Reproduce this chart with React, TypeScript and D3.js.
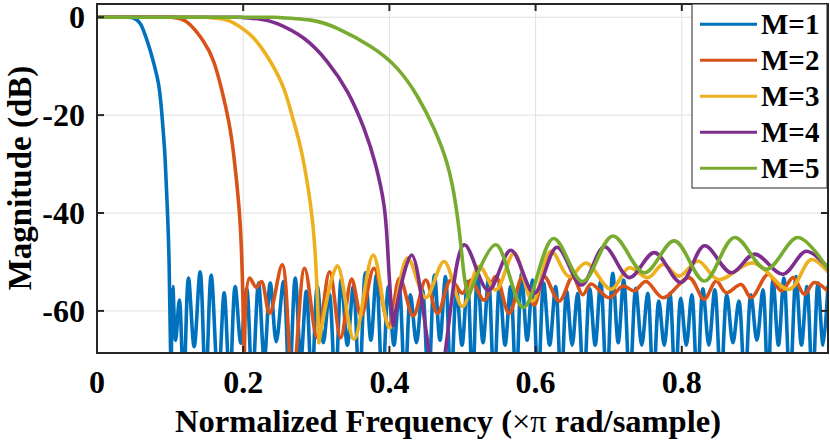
import { useEffect, useRef } from 'react'
import * as d3 from 'd3'

// normalized frequency (x pi rad/sample), magnitude in dB
const M1: [number, number][] = [
  [0, 0], [0.042, 0], [0.05, -0.15], [0.057, -0.9], [0.063, -2.5], [0.0726, -6.7], [0.0795, -10.5], [0.084, -13.5], [0.0877, -18],
  [0.0908, -23.7], [0.0932, -29], [0.0959, -38], [0.0986, -50], [0.1014, -75],
  [0.1037, -55], [0.1075, -66], [0.1127, -57.8], [0.1185, -75], [0.1251, -53.3], [0.1329, -67.3], [0.1411, -52], [0.1486, -75],
  [0.1562, -52.7], [0.1658, -75], [0.174, -56.3], [0.1815, -75], [0.189, -55], [0.1968, -66.6], [0.2048, -55.5], [0.2123, -75],
  [0.221, -54.3], [0.2288, -70], [0.237, -54.3], [0.2452, -66.3], [0.2552, -54], [0.263, -75], [0.2712, -53.3], [0.2788, -70],
  [0.2863, -56], [0.2938, -75], [0.3014, -55], [0.3096, -66.5], [0.3178, -56.5], [0.326, -75], [0.3342, -53.5], [0.3425, -67],
  [0.3507, -55], [0.3589, -75], [0.3671, -52.2], [0.3747, -66], [0.3822, -52.7], [0.3904, -75], [0.3986, -55], [0.4062, -67],
  [0.4137, -55.7], [0.4212, -75], [0.4288, -56.7], [0.437, -66.5], [0.4452, -55.7], [0.4534, -75], [0.4616, -52.7], [0.4692, -66],
  [0.4767, -53], [0.4842, -75], [0.4918, -55.5], [0.4993, -67], [0.5068, -54], [0.5137, -75], [0.5205, -52.3], [0.5281, -66.5],
  [0.5356, -53.5], [0.5432, -75], [0.5507, -54.3], [0.5582, -67], [0.5658, -55], [0.5733, -75], [0.5808, -52.3], [0.5884, -66],
  [0.5959, -53.7], [0.6034, -75], [0.611, -54.3], [0.6192, -67], [0.6274, -55], [0.6349, -75], [0.6425, -56], [0.65, -67],
  [0.6575, -56.4], [0.6658, -75], [0.674, -55.5], [0.6815, -67], [0.689, -54], [0.6973, -75], [0.7055, -52.3], [0.713, -66.5],
  [0.7205, -53.7], [0.7288, -75], [0.737, -55.4], [0.7452, -67], [0.7534, -56.4], [0.761, -75], [0.7685, -58], [0.776, -67],
  [0.7836, -56.4], [0.7911, -75], [0.7986, -57.4], [0.8062, -67], [0.8137, -56.7], [0.8212, -75], [0.8288, -55.5], [0.837, -67],
  [0.8452, -55.7], [0.8534, -75], [0.8616, -56.7], [0.8699, -66.5], [0.8781, -58], [0.8863, -75], [0.8945, -56.7], [0.9027, -66],
  [0.911, -55.7], [0.9178, -75], [0.9247, -53.7], [0.9322, -67], [0.9397, -53.3], [0.9479, -75], [0.9562, -53], [0.9637, -67],
  [0.9712, -55], [0.9788, -75], [0.9863, -54.3], [0.9932, -67], [1.0, -55],
]

const M2: [number, number][] = [
  [0, 0], [0.1, 0], [0.1141, -0.3], [0.1278, -1.6], [0.146, -5], [0.1597, -9.1], [0.1712, -15.2], [0.1803, -21.4],
  [0.1871, -28.2], [0.194, -38.4], [0.1973, -46.5], [0.1997, -58], [0.2015, -75], [0.2086, -53.3], [0.2179, -55.2],
  [0.2251, -54], [0.236, -60.5], [0.2534, -50.6], [0.2675, -75], [0.284, -51.3], [0.3014, -65.5], [0.3182, -52], [0.3333, -65.5],
  [0.3484, -53.5], [0.3614, -61], [0.3789, -51.3], [0.3995, -63], [0.4141, -53.3], [0.4326, -61], [0.4497, -53.7], [0.4658, -60.5],
  [0.484, -53.7], [0.5, -56.4], [0.5114, -53.7], [0.5296, -57.8], [0.5456, -53], [0.5638, -60.5], [0.5822, -53], [0.5981, -58.8],
  [0.6118, -53], [0.6323, -58], [0.6507, -53], [0.6644, -56.7], [0.6758, -54.5], [0.7004, -57.3], [0.7196, -54.9], [0.7347, -55.9],
  [0.7511, -54], [0.7744, -57.3], [0.81, -53.2], [0.8305, -57.6], [0.847, -53.9], [0.8607, -56.3], [0.8812, -54.6], [0.8949, -57.3],
  [0.9182, -52.5], [0.936, -55.9], [0.9525, -53.2], [0.9675, -56.6], [0.9812, -54.2], [1.0, -56],
]

const M3: [number, number][] = [
  [0, 0], [0.15, 0], [0.1758, -0.5], [0.1918, -1.6], [0.2145, -4.3], [0.2374, -9.1], [0.2556, -14.6], [0.2693, -21.4],
  [0.2808, -28.2], [0.2922, -38.4], [0.2977, -46.5], [0.3011, -56], [0.3036, -66.5], [0.3288, -50.8], [0.3515, -65.8],
  [0.3778, -48.6], [0.4004, -63.5], [0.4247, -49.2], [0.4497, -57.3], [0.4748, -49.9], [0.5, -59.1], [0.5227, -50.9],
  [0.5456, -55.7], [0.5707, -48.2], [0.5959, -58], [0.621, -47.8], [0.646, -53], [0.669, -50.2], [0.7032, -55.6],
  [0.7278, -51.2], [0.7538, -53.2], [0.7744, -50.5], [0.7963, -52.9], [0.8223, -49.8], [0.8497, -53.6], [0.8977, -50.2],
  [0.947, -55.6], [0.9771, -49.5], [1.0, -52],
]

const M4: [number, number][] = [
  [0, 0], [0.195, 0], [0.2237, -0.4], [0.2466, -1.3], [0.283, -4.3], [0.3151, -9.1], [0.3425, -15.2], [0.3652, -22.7],
  [0.3812, -30.2], [0.3926, -38.4], [0.3973, -46.5], [0.4011, -56], [0.4052, -63], [0.4305, -48.6], [0.4658, -75],
  [0.5022, -46.5], [0.5353, -55.8], [0.5662, -47.6], [0.5981, -56.4], [0.6292, -47], [0.6627, -54.7], [0.694, -46.9],
  [0.7282, -53.2], [0.7625, -48.1], [0.7989, -54.2], [0.831, -46.7], [0.8675, -52.2], [0.8995, -48.4], [0.9384, -52.5],
  [0.9703, -47.8], [1.0, -51.2],
]

const M5: [number, number][] = [
  [0, 0], [0.24, 0], [0.2922, -0.6], [0.3288, -2.3], [0.3744, -6.0], [0.411, -10.5], [0.4384, -16.2], [0.4611, -22.8],
  [0.4795, -30.2], [0.4908, -38.4], [0.4977, -46.5], [0.5025, -53], [0.5079, -57.3], [0.5456, -46.5], [0.5833, -59.3],
  [0.6244, -45.2], [0.6644, -54], [0.7055, -44.7], [0.7488, -52.2], [0.7899, -45.7], [0.831, -53.9], [0.8721, -45],
  [0.9155, -51.5], [0.9589, -45], [1.0, -51.5],
]

const SERIES = [M1, M2, M3, M4, M5]
const LABELS = ['M=1', 'M=2', 'M=3', 'M=4', 'M=5']
const COLORS = ['#0072BD', '#D95319', '#EDB120', '#7E2F8E', '#77AC30']
const X_TICKS = [0, 0.2, 0.4, 0.6, 0.8]
const Y_TICKS = [0, -20, -40, -60]

const FONT = '"Liberation Serif", "Times New Roman", serif'

// first stopband null: end of the roll-off
function firstNull(s: [number, number][]) {
  for (let i = 2; i < s.length - 1; i++) {
    if (s[i][1] < -45 && s[i + 1][1] > s[i][1]) return i
  }
  return s.length - 1
}

export default function App() {
  const svgRef = useRef<SVGSVGElement>(null)

  useEffect(() => {
    if (!svgRef.current) return
    const W = 830, H = 445
    const svg = d3.select(svgRef.current).attr('width', W).attr('height', H)
    svg.selectAll('*').remove()

    const L = 97, R = 828, T = 4, B = 353
    const x = d3.scaleLinear().domain([0, 1]).range([L, R])
    const y = d3.scaleLinear().domain([-68.6, 2.7]).range([B, T])

    svg.append('rect').attr('width', W).attr('height', H).attr('fill', '#fff')

    // grid
    const grid = svg.append('g').attr('stroke', '#dfdfdf').attr('stroke-width', 1)
    X_TICKS.filter(t => t > 0).forEach(t => {
      grid.append('line').attr('x1', x(t)).attr('x2', x(t)).attr('y1', T).attr('y2', B)
    })
    Y_TICKS.forEach(t => {
      grid.append('line').attr('x1', L).attr('x2', R).attr('y1', y(t)).attr('y2', y(t))
    })

    svg.append('clipPath').attr('id', 'plot-clip')
      .append('rect').attr('x', L).attr('y', T).attr('width', R - L).attr('height', B - T)

    const flat = d3.line<[number, number]>().x(d => x(d[0])).y(d => y(d[1]))
    const rolloff = d3.line<[number, number]>().x(d => x(d[0])).y(d => y(d[1])).curve(d3.curveNatural)
    const ripple = d3.line<[number, number]>().x(d => x(d[0])).y(d => y(d[1])).curve(d3.curveCatmullRom.alpha(0.5))

    const plot = svg.append('g').attr('clip-path', 'url(#plot-clip)')
    SERIES.forEach((s, i) => {
      const n = firstNull(s)
      const d = (flat(s.slice(0, 2)) ?? '') + (rolloff(s.slice(1, n + 1)) ?? '') + (ripple(s.slice(n)) ?? '')
      plot.append('path').attr('d', d)
        .attr('fill', 'none').attr('stroke', COLORS[i])
        .attr('stroke-width', 3.6).attr('stroke-linejoin', 'round').attr('stroke-linecap', 'round')
    })

    // axes box + inward ticks
    const ax = svg.append('g').attr('stroke', '#262626').attr('stroke-width', 2)
    ax.append('rect').attr('x', L).attr('y', T).attr('width', R - L).attr('height', B - T).attr('fill', 'none')
    const tk = 7
    X_TICKS.forEach(t => {
      ax.append('line').attr('x1', x(t)).attr('x2', x(t)).attr('y1', B).attr('y2', B - tk)
      ax.append('line').attr('x1', x(t)).attr('x2', x(t)).attr('y1', T).attr('y2', T + tk)
    })
    Y_TICKS.forEach(t => {
      ax.append('line').attr('x1', L).attr('x2', L + tk).attr('y1', y(t)).attr('y2', y(t))
      ax.append('line').attr('x1', R).attr('x2', R - tk).attr('y1', y(t)).attr('y2', y(t))
    })

    const txt = svg.append('g').attr('font-family', FONT).attr('font-weight', 'bold').attr('fill', '#000')
    X_TICKS.forEach(t => {
      txt.append('text').attr('x', x(t)).attr('y', 393).attr('text-anchor', 'middle')
        .attr('font-size', 32).text(String(t))
    })
    Y_TICKS.forEach(t => {
      txt.append('text').attr('x', 85).attr('y', y(t) + 11).attr('text-anchor', 'end')
        .attr('font-size', 32).text(String(t))
    })

    const xl = txt.append('text').attr('x', 448).attr('y', 432).attr('text-anchor', 'middle').attr('font-size', 32.5)
    xl.append('tspan').text('Normalized Frequency (')
    xl.append('tspan').attr('font-weight', 'normal').text('\u00d7\u03c0')
    xl.append('tspan').text(' rad/sample)')

    txt.append('text').attr('transform', 'translate(31,178) rotate(-90)')
      .attr('text-anchor', 'middle').attr('font-size', 33).text('Magnitude (dB)')

    // legend
    const lg = svg.append('g')
    lg.append('rect').attr('x', 692).attr('y', T).attr('width', 135).attr('height', 184)
      .attr('fill', '#fff').attr('stroke', '#262626').attr('stroke-width', 1)
    LABELS.forEach((lab, i) => {
      const cy = 24.3 + i * 36
      lg.append('line').attr('x1', 700).attr('x2', 757).attr('y1', cy).attr('y2', cy)
        .attr('stroke', COLORS[i]).attr('stroke-width', 3)
      lg.append('text').attr('x', 761).attr('y', cy + 10)
        .attr('font-family', FONT).attr('font-weight', 'bold').attr('font-size', 29).text(lab)
    })
  }, [])

  return (
    <div style={{ position: 'absolute', left: 0, top: 0, width: 830, height: 445 }}>
      <svg ref={svgRef} style={{ display: 'block' }} />
    </div>
  )
}
